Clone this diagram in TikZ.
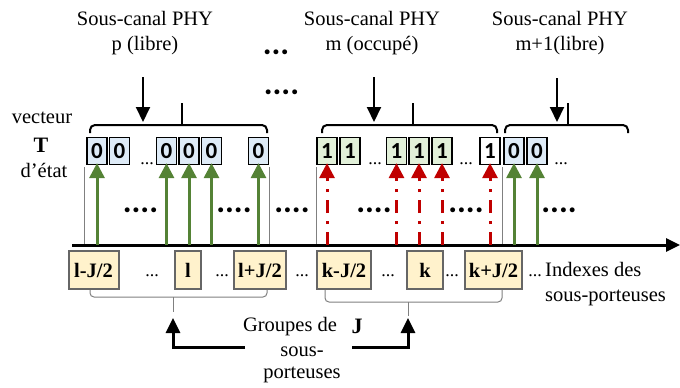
\documentclass[tikz,border=0pt]{standalone}
\usepackage{fontspec}
\setmainfont{Liberation Serif}
\newfontfamily\digitfont{Carlito}
\usetikzlibrary{arrows.meta}
\definecolor{bluebox}{HTML}{DEEBF7}
\definecolor{greenbox}{HTML}{E2F0D9}
\definecolor{yellowbox}{HTML}{FFF2CC}
\definecolor{garrowc}{HTML}{548235}
\definecolor{rarrowc}{HTML}{C00000}
\definecolor{boxgray}{HTML}{666666}
\definecolor{lgray}{HTML}{808080}
\tikzset{
  lbl/.style={font=\fontsize{20.5}{25}\selectfont, align=center, inner sep=0pt},
  bit/.style={draw=black, line width=1.2pt, minimum width=20pt, minimum height=27pt, inner sep=0pt,
     font=\digitfont\bfseries\fontsize{23}{23}\selectfont},
  bitz/.style={bit, fill=bluebox},
  bito/.style={bit, fill=greenbox},
  bitw/.style={bit, fill=white},
  idx/.style={draw=boxgray, line width=2pt, fill=yellowbox, minimum height=38pt, inner sep=0pt,
     font=\fontsize{20.5}{25}\selectfont\bfseries},
  sdots/.style={font=\fontsize{18}{18}\selectfont, inner sep=0pt, anchor=base},
  bdots/.style={font=\digitfont\bfseries\fontsize{33}{33}\selectfont, inner sep=0pt},
  garrow/.style={draw=garrowc, line width=3pt, -{Triangle[width=15pt,length=15pt]}},
  rarrow/.style={draw=rarrowc, line width=3pt, dash pattern=on 13pt off 8pt on 3pt off 8pt,
     -{Triangle[width=15pt,length=15pt]}},
  darrow/.style={draw=black, line width=2pt, -{Triangle[width=14pt,length=15pt]}},
  barrow/.style={draw=black, line width=3pt, -{Triangle[width=14pt,length=15pt]}},
  axisline/.style={draw=black, line width=3pt, -{Triangle[width=13pt,length=14pt]}},
  thin/.style={draw=lgray, line width=1pt},
  topbrace/.style={draw=black, line width=2pt, rounded corners=5pt},
  botbrace/.style={draw=lgray, line width=1pt, rounded corners=4pt},
}
\begin{document}
\begin{tikzpicture}[x=1pt,y=-1pt]
\useasboundingbox (0,0) rectangle (680,388);

% top labels
\node[lbl] (lp) at (145,33) {Sous-canal PHY\\p (libre)};
\node[lbl] (lm) at (372,33) {Sous-canal PHY\\m (occupé)};
\node[lbl] (lm1) at (560,33) {Sous-canal PHY\\m+1(libre)};
\node[bdots] (td1) at (276,52) {...};
\node[bdots] (td2) at (281.5,92) {....};

% vecteur T d'etat
\node[lbl] (vec) at (42,118) {vecteur};
\node[lbl, font=\fontsize{22}{25}\selectfont\bfseries] (T) at (41,145) {T};
\node[lbl] (etat) at (44,170) {d’état};

% top braces
\draw[topbrace] (90,133) -- (90,125) -- (267,125) -- (267,133);
\draw[topbrace] (322,133) -- (322,125) -- (497,125) -- (497,133);
\draw[topbrace] (505,133) -- (505,125) -- (628,125) -- (628,133);
\coordinate (tk1a) at (182,125); \coordinate (tk1b) at (182,103);
\coordinate (tk2a) at (413,125); \coordinate (tk2b) at (413,103);
\coordinate (tk3a) at (568,125); \coordinate (tk3b) at (568,103);
\draw[black, line width=1.5pt] (tk1a) -- (tk1b);
\draw[black, line width=1.5pt] (tk2a) -- (tk2b);
\draw[black, line width=1.5pt] (tk3a) -- (tk3b);

% down arrows
\coordinate (dp0) at (143,77); \coordinate (dp1) at (143,122);
\coordinate (dm0) at (374,77); \coordinate (dm1) at (374,122);
\coordinate (dn0) at (557,78); \coordinate (dn1) at (557,122);
\draw[darrow] (dp0) -- (dp1);
\draw[darrow] (dm0) -- (dm1);
\draw[darrow] (dn0) -- (dn1);

% state bits
\node[bitz] (z1) at (97,151) {0};
\node[bitz] (z2) at (119.5,151) {0};
\node[sdots] (s1) at (147,164) {...};
\node[bitz] (z3) at (166.5,151) {0};
\node[bitz] (z4) at (189,151) {0};
\node[bitz] (z5) at (211.5,151) {0};
\node[bitz] (z6) at (258.5,151) {0};
\node[bito] (o1) at (327,151) {1};
\node[bito] (o2) at (350,151) {1};
\node[sdots] (s2) at (375,164) {...};
\node[bito] (o3) at (396.5,151) {1};
\node[bito] (o4) at (419,151) {1};
\node[bito] (o5) at (442,151) {1};
\node[sdots] (s3) at (466,164) {...};
\node[bitw] (o6) at (490,151) {1};
\node[bitz] (z7) at (514,151) {0};
\node[bitz] (z8) at (537,151) {0};
\node[sdots] (s4) at (561,164) {...};

% axis
\coordinate (ax0) at (72,245);
\coordinate (ax1) at (680,245);
\draw[axisline] (ax0) -- (ax1);

% thin gray lines
\foreach \x [count=\i] in {84,269,316,502} {
  \coordinate (ga\i) at (\x,167);
  \coordinate (gb\i) at (\x,244);
  \draw[thin] (ga\i) -- (gb\i);
}

% green arrows
\foreach \b in {z1,z3,z4,z5,z6,z7,z8} {
  \draw[garrow] (\b.south |- ax0) -- ([yshift=2pt]\b.south);
}
% red arrows
\foreach \b in {o1,o3,o4,o5,o6} {
  \draw[rarrow] (\b.south |- ax0) -- ([yshift=2pt]\b.south);
}

% big dots row
\foreach \x [count=\i] in {140.5,234,292,374,466,559} {
  \node[bdots] (bd\i) at (\x,210) {....};
}

% index boxes
\node[idx, minimum width=50pt] (i1) at (93.5,270) {l-J/2};
\node[sdots] (e1) at (152,276) {...};
\node[idx, minimum width=26pt] (i2) at (188,270) {l};
\node[sdots] (e2) at (222,276) {...};
\node[idx, minimum width=52pt] (i3) at (260,270) {l+J/2};
\node[sdots] (e3) at (302,276) {...};
\node[idx, minimum width=54pt] (i4) at (344,270) {k-J/2};
\node[sdots] (e4) at (388,276) {...};
\node[idx, minimum width=36pt] (i5) at (425,270) {k};
\node[sdots] (e5) at (452,276) {...};
\node[idx, minimum width=57pt] (i6) at (493.5,270) {k+J/2};
\node[sdots] (e6) at (535,276) {...};
\node[lbl, anchor=west, align=left] (ind) at (545,284) {Indexes des\\sous-porteuses};

% bottom braces
\draw[botbrace] (90,290) -- (90,297) -- (267,297) -- (267,290);
\draw[botbrace] (325,290) -- (325,302) -- (502,302) -- (502,290);
\coordinate (bt1a) at (173,297); \coordinate (bt1b) at (173,312);
\coordinate (bt2a) at (408,302); \coordinate (bt2b) at (408,316);
\draw[thin] (bt1a) -- (bt1b);
\draw[thin] (bt2a) -- (bt2b);

% group label
\node[lbl] (g1) at (290,327) {Groupes de};
\node[lbl, font=\fontsize{22}{25}\selectfont\bfseries] (gJ) at (357,326) {J};
\node[lbl] (g2) at (302,352) {sous-};
\node[lbl] (g3) at (302,375) {porteuses};

% bottom arrows
\coordinate (ba0) at (245,347); \coordinate (ba1) at (173,318);
\coordinate (bb0) at (352,347); \coordinate (bb1) at (408,318);
\draw[barrow] (ba0) -| (ba1);
\draw[barrow] (bb0) -| (bb1);
\end{tikzpicture}
\end{document}
